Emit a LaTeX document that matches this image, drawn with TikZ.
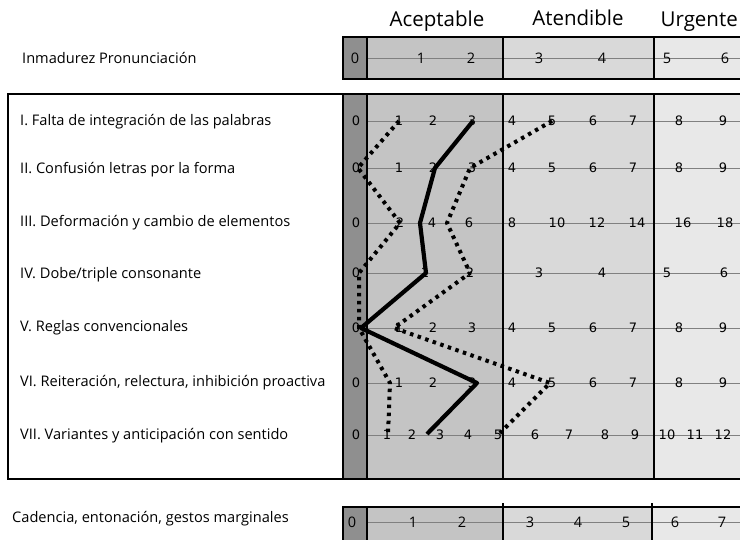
\documentclass[tikz,border=0pt]{standalone}
\usepackage{fontspec}
\setmainfont{Open Sans}
\newfontfamily\numfont{DejaVu Sans}
\begin{document}
\begin{tikzpicture}[x=1pt,y=-1pt,
  darkc/.style={fill=black!44},
  acept/.style={fill=black!23},
  atend/.style={fill=black!15},
  urg/.style={fill=black!9},
  border/.style={draw=black,line width=1.3pt},
  divider/.style={draw=black,line width=1.1pt},
  scaleline/.style={draw=black!50,line width=0.5pt},
  hdr/.style={font=\fontsize{20.5}{21}\selectfont,inner sep=0pt,anchor=base},
  rowlabel/.style={font=\fontsize{14.6}{15}\selectfont,anchor=west,inner sep=0pt},
  rownum/.style={font=\numfont\fontsize{13}{13}\selectfont,inner sep=0pt},
  barnum/.style={font=\fontsize{14.5}{14.5}\selectfont,inner sep=0pt},
  profile/.style={line width=4.2pt,line join=round},
  dotprof/.style={line width=4pt,dash pattern=on 3.5pt off 4.5pt,line join=round}
]
\useasboundingbox (0,0) rectangle (740,539);
\fill[white] (0,0) rectangle (740,539);

% ---------- top bar ----------
\path[darkc] (343,37) rectangle (367,79);
\path[acept] (367,37) rectangle (503,79);
\path[atend] (503,37) rectangle (654,79);
\path[urg]   (654,37) rectangle (745,79);
\draw[scaleline] (367,58) -- (745,58);
\draw[border] (343,37) rectangle (745,79);
\draw[divider] (367,37) -- (367,79) (503,37) -- (503,79) (654,37) -- (654,79);
\foreach \n/\x in {0/355,1/421,2/471,3/539,4/602,5/667,6/725}
  \node[barnum] (t\n) at (\x,58) {\n};

% ---------- headers ----------
\node[hdr] (hA) at (437,26) {Aceptable};
\node[hdr] (hB) at (578,25) {Atendible};
\node[hdr,anchor=base east] (hC) at (738,26) {Urgente};

\node[rowlabel] (lP) at (22,58) {Inmadurez Pronunciación};

% ---------- main box ----------
\path[darkc] (343,94) rectangle (367,479);
\path[acept] (367,94) rectangle (503,479);
\path[atend] (503,94) rectangle (654,479);
\path[urg]   (654,94) rectangle (745,479);
\foreach \y in {121,168,223,273,328,383,435}
  \draw[scaleline] (367,\y) -- (745,\y);
\draw[border] (8,94) rectangle (745,479);
\draw[divider] (343,94) -- (343,479);
\draw[divider] (367,94) -- (367,479) (503,94) -- (503,479) (654,94) -- (654,479);

\node[rowlabel] (l1) at (20,122) {I. Falta de integración de las palabras};
\node[rowlabel] (l2) at (20,170) {II. Confusión letras por la forma};
\node[rowlabel] (l3) at (20,223) {III. Deformación y cambio de elementos};
\node[rowlabel] (l4) at (20,275) {IV. Dobe/triple consonante};
\node[rowlabel] (l5) at (20,328) {V. Reglas convencionales};
\node[rowlabel] (l6) at (20,383) {VI. Reiteración, relectura, inhibición proactiva};
\node[rowlabel] (l7) at (20,436) {VII. Variantes y anticipación con sentido};

% row numbers
\foreach \r/\y in {1/121,2/168,5/328,6/383}
  \foreach \n/\x in {0/356,1/399,2/433,3/472,4/512,5/552,6/593,7/633,8/679,9/723}
    \node[rownum] (r\r n\n) at (\x,\y) {\n};
\foreach \n/\x in {0/356,2/400,4/432,6/469,8/512,10/557,12/597,14/637,16/683,18/725}
  \node[rownum] (r3n\n) at (\x,223) {\n};
\foreach \n/\x in {0/356,1/425,2/470,3/539,4/602,5/667,6/724}
  \node[rownum] (r4n\n) at (\x,273) {\n};
\foreach \n/\x in {0/356,1/387,2/412,3/440,4/468,5/498,6/535,7/569,8/605,9/635,10/667,11/695,12/723}
  \node[rownum] (r7n\n) at (\x,435) {\n};

% ---------- profiles ----------
\coordinate (s1) at (473,121);
\coordinate (s2) at (435,168);
\coordinate (s3) at (420,223);
\coordinate (s4) at (426,273);
\coordinate (s5) at (361,328);
\coordinate (s6) at (477,383);
\coordinate (s7) at (427,434);
\coordinate (a1) at (399,121);
\coordinate (a2) at (358,168);
\coordinate (a3) at (400,223);
\coordinate (a4) at (359,273);
\coordinate (a5) at (359,328);
\coordinate (a6) at (390,383);
\coordinate (a7) at (388,435);
\coordinate (b1) at (552,121);
\coordinate (b2) at (470,168);
\coordinate (b3) at (447,223);
\coordinate (b4) at (470,273);
\coordinate (b5) at (394,328);
\coordinate (b6) at (550,383);
\coordinate (b7) at (500,433);
\draw[profile] (s1) -- (s2) -- (s3) -- (s4) -- (s5) -- (s6) -- (s7);
\draw[dotprof] (a1) -- (a2) -- (a3) -- (a4) -- (a5) -- (a6) -- (a7);
\draw[dotprof] (b1) -- (b2) -- (b3) -- (b4) -- (b5) -- (b6) -- (b7);

% ---------- bottom bar ----------
\path[darkc] (343,507) rectangle (367,545);
\path[acept] (367,507) rectangle (503,545);
\path[atend] (503,507) rectangle (652,545);
\path[urg]   (652,507) rectangle (745,545);
\draw[scaleline] (367,522) -- (745,522);
\draw[border] (343,507) rectangle (745,545);
\draw[divider] (367,507) -- (367,545) (503,503) -- (503,545) (652,503) -- (652,545);
\foreach \n/\x in {0/352,1/413,2/462,3/530,4/578,5/626,6/675,7/722}
  \node[barnum] (b\n n) at (\x,522) {\n};
\node[rowlabel] (lC) at (12,519) {Cadencia, entonación, gestos marginales};
\end{tikzpicture}
\end{document}
